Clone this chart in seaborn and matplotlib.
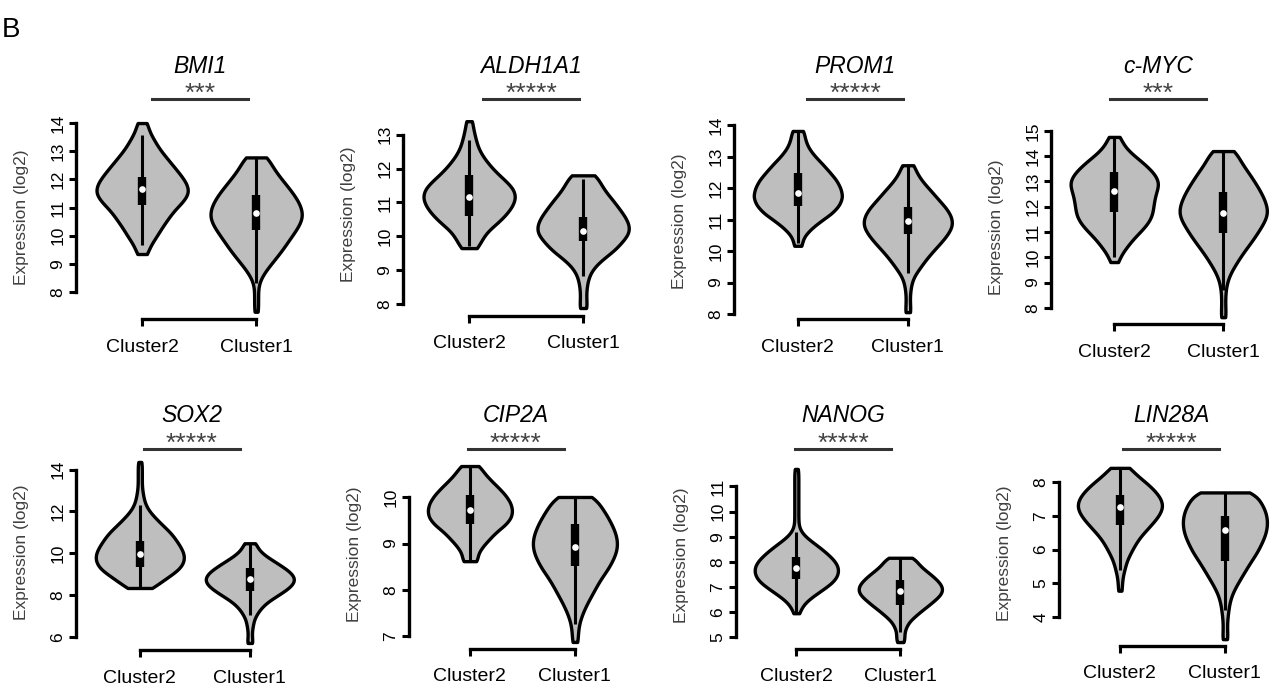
import numpy as np
import pandas as pd
import matplotlib
matplotlib.use('Agg')
import matplotlib.pyplot as plt
from matplotlib.lines import Line2D
import seaborn as sns

plt.rcParams['font.family'] = ['Liberation Sans', 'DejaVu Sans']

W, H = 1273, 689

genes = ['BMI1', 'ALDH1A1', 'PROM1', 'c-MYC', 'SOX2', 'CIP2A', 'NANOG', 'LIN28A']
stars = ['***', '*****', '*****', '***', '*****', '*****', '*****', '*****']
clusters = ['Cluster2', 'Cluster1']
yticks = [[8, 9, 10, 11, 12, 13, 14], [8, 9, 10, 11, 12, 13],
          [8, 9, 10, 11, 12, 13, 14], [8, 9, 10, 11, 12, 13, 14, 15],
          [6, 8, 10, 12, 14], [7, 8, 9, 10],
          [5, 6, 7, 8, 9, 10, 11], [4, 5, 6, 7, 8]]

# expression range (min, max) of each group, log2
c2_range = [(9.35, 14.0), (9.65, 13.4), (10.17, 13.82), (9.81, 14.76),
            (8.34, 14.37), (8.62, 10.68), (5.95, 11.7), (4.78, 8.43)]
c1_range = [(7.3, 12.78), (7.88, 11.8), (8.06, 12.73), (7.63, 14.2),
            (5.71, 10.48), (6.87, 10.01), (4.8, 8.16), (3.34, 7.7)]

# sample counts at evenly spaced levels between min and max (bottom -> top)
c2_counts = [
    [5, 8, 14, 19, 25, 31, 40, 46, 44, 38, 31, 24, 17, 12, 7, 5],
    [8, 12, 17, 27, 35, 41, 44, 42, 34, 25, 18, 12, 8, 6, 4, 3],
    [4, 5, 12, 22, 34, 41, 44, 42, 38, 31, 24, 16, 10, 7, 6],
    [4, 7, 13, 19, 27, 34, 38, 39, 40, 42, 45, 42, 35, 26, 16, 9, 6],
    [13, 21, 30, 39, 43, 44, 42, 38, 34, 29, 22, 16, 10, 6, 4, 3, 2, 2, 2, 2, 2],
    [8, 8, 13, 20, 27, 37, 43, 44, 42, 37, 30, 22, 15, 10],
    [3, 5, 10, 19, 28, 37, 41, 42, 40, 34, 27, 19, 10, 4, 2, 2, 2, 2, 2, 2, 2, 2, 2, 2],
    [2, 2, 3, 5, 7, 11, 15, 20, 27, 34, 40, 43, 41, 35, 27, 17, 10],
]
c1_counts = [
    [2, 2, 2, 2, 5, 11, 18, 25, 31, 37, 43, 47, 46, 42, 36, 29, 22, 16, 12],
    [4, 3, 3, 4, 6, 11, 20, 31, 38, 45, 45, 41, 35, 29, 22, 17, 13],
    [3, 2, 2, 3, 5, 11, 17, 24, 32, 39, 44, 43, 38, 30, 23, 15, 9, 6],
    [3, 2, 2, 2, 3, 5, 9, 14, 19, 25, 31, 36, 41, 45, 44, 41, 37, 32, 27, 21, 16, 13],
    [3, 2, 2, 3, 4, 7, 11, 17, 26, 35, 42, 44, 40, 32, 23, 14, 8, 6],
    [3, 3, 4, 7, 11, 16, 21, 26, 33, 38, 42, 43, 41, 37, 32, 26, 20],
    [4, 4, 4, 6, 9, 15, 21, 28, 34, 40, 42, 40, 35, 29, 22, 17, 14],
    [3, 2, 2, 3, 4, 6, 10, 15, 20, 25, 31, 35, 39, 41, 41, 39, 34, 30],
]

# box summary: whisker low, Q1, median, Q3, whisker high
c2_box = [(9.67, 11.1, 11.66, 12.08, 13.57), (9.7, 10.6, 11.15, 11.8, 12.85),
          (10.25, 11.43, 11.86, 12.48, 13.8), (10.0, 11.78, 12.61, 13.37, 14.76),
          (8.35, 9.33, 9.95, 10.57, 12.33), (8.62, 9.42, 9.72, 10.06, 10.67),
          (5.97, 7.32, 7.76, 8.2, 9.2), (5.4, 6.72, 7.28, 7.61, 8.43)]
c1_box = [(8.32, 10.2, 10.8, 11.44, 12.75), (8.82, 9.85, 10.17, 10.57, 11.7),
          (9.3, 10.54, 10.95, 11.4, 12.7), (8.7, 10.94, 11.77, 12.57, 14.2),
          (7.05, 8.19, 8.76, 9.29, 10.48), (7.26, 8.51, 8.92, 9.42, 10.0),
          (5.2, 6.28, 6.84, 7.28, 8.16), (4.2, 5.67, 6.57, 6.99, 7.7)]

# panel layout in pixels: y-axis x, category spacing, top, bottom, title centre
panels = [(76, 114, 115.5, 319.3, 200), (403, 114, 113.7, 315.5, 531),
          (734, 110, 123.7, 319.4, 855), (1051, 109, 129.7, 324.4, 1158),
          (76, 110, 454.7, 650.2, 192), (409, 105, 459, 649, 516),
          (736, 104, 462, 649, 843), (1059, 105, 461, 646, 1171)]

fig = plt.figure(figsize=(W / 100, H / 100), dpi=100)
fig.text(2 / W, 1 - 37 / H, 'B', fontsize=20, va='baseline')

for i, gene in enumerate(genes):
    frames = []
    for name, rng, cnt in [('Cluster2', c2_range[i], c2_counts[i]),
                           ('Cluster1', c1_range[i], c1_counts[i])]:
        levels = np.linspace(rng[0], rng[1], len(cnt))
        frames.append(pd.DataFrame({'cluster': name,
                                    'expr': np.repeat(levels, cnt)}))
    df = pd.concat(frames, ignore_index=True)

    x0, step, top, bottom, tc = panels[i]
    aw = 2.16 * step
    ax = fig.add_axes([x0 / W, 1 - bottom / H, aw / W, (bottom - top) / H])
    sns.violinplot(data=df, x='cluster', y='expr', order=clusters, ax=ax,
                   color='#bebebe', saturation=1, linecolor='black',
                   linewidth=2.4, inner=None, cut=0, density_norm='width',
                   width=0.8, bw_adjust=0.7)

    for j, (lo, q1, med, q3, hi) in enumerate([c2_box[i], c1_box[i]]):
        ax.plot([j, j], [lo, hi], color='black', lw=2.2, solid_capstyle='butt')
        ax.plot([j, j], [q1, q3], color='black', lw=6, solid_capstyle='butt')
        ax.plot(j, med, 'o', color='white', ms=4.8, mec='none')

    ymin = min(c2_range[i][0], c1_range[i][0])
    ymax = max(c2_range[i][1], c1_range[i][1])
    pad = 0.04 * (ymax - ymin)
    ax.set_ylim(ymin - pad, ymax + pad)
    ax.set_xlim(-0.58, 1.58)

    ax.spines['top'].set_visible(False)
    ax.spines['right'].set_visible(False)
    for side in ['left', 'bottom']:
        ax.spines[side].set_linewidth(2.4)
    ax.spines['left'].set_bounds(yticks[i][0], yticks[i][-1])
    ax.spines['bottom'].set_bounds(0, 1)

    ax.set_yticks(yticks[i])
    ax.set_yticklabels([str(t) for t in yticks[i]], rotation=90, va='center')
    ax.tick_params(axis='y', length=5, width=2.2, labelsize=12.5, pad=2.5)
    ax.tick_params(axis='x', length=5, width=2.2, labelsize=14, pad=9)
    ax.set_xlabel('')
    ax.set_ylabel('Expression (log2)', fontsize=12.5, color='#404040')
    ax.yaxis.set_label_coords(-47 / aw, 0.5)

    row = 0 if i < 4 else 1
    fig.text(tc / W, 1 - (73 + 349 * row) / H, gene, fontsize=16.5,
             style='italic', ha='center', va='baseline')
    fig.text(tc / W, 1 - (101 + 350 * row) / H, stars[i], fontsize=19,
             color='#444444', ha='center', va='baseline')
    by = 1 - (99 + 350 * row) / H
    fig.add_artist(Line2D([(tc - 48) / W, (tc + 48) / W], [by, by],
                          transform=fig.transFigure, color='#333333', lw=2.2))

fig.savefig('out.png', dpi=100)
